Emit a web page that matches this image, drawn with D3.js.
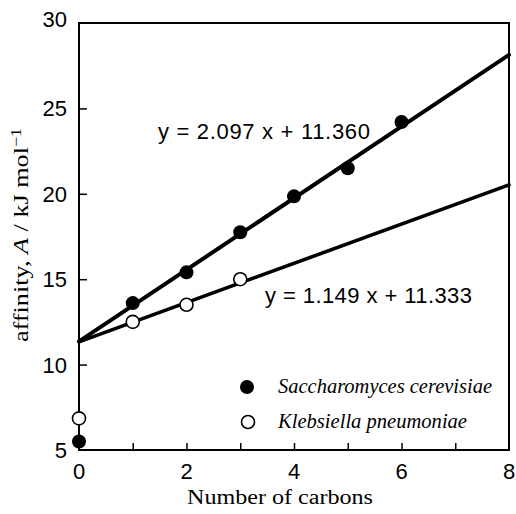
<!DOCTYPE html>
<html>
<head>
<meta charset="utf-8">
<script src="https://cdn.jsdelivr.net/npm/d3@7"></script>
<style>
  body { margin: 0; background: #fff; }
  text { fill: #000; }
</style>
</head>
<body>
<div id="chart"></div>
<script>
// data
var sacX = [0, 1, 2, 3, 4, 5, 6]
var sacY = [5.5, 13.6, 15.4, 17.75, 19.85, 21.5, 24.2]
var klebX = [0, 1, 2, 3]
var klebY = [6.85, 12.5, 13.5, 15.0]
var fits = [
    { name: "sac", slope: 2.097, icept: 11.360, label: "y = 2.097 x + 11.360" },
    { name: "kleb", slope: 1.149, icept: 11.333, label: "y = 1.149 x + 11.333" }
]
var legendNames = ["Saccharomyces cerevisiae", "Klebsiella pneumoniae"]
var xTicks = [0, 2, 4, 6, 8]
var xMinor = [1, 2, 3, 4, 5, 6, 7]
var yTicks = [5, 10, 15, 20, 25, 30]

var margin = { top: 23, right: 7, bottom: 64, left: 79 },
    W = 516, H = 514,
    width = W - margin.left - margin.right,
    height = H - margin.top - margin.bottom;

var svg = d3.select("#chart").append("svg")
    .attr("width", W)
    .attr("height", H)
var g = svg.append("g")
    .attr("transform", "translate(" + margin.left + "," + margin.top + ")")

var x = d3.scaleLinear().domain([0, 8]).range([0, width])
var y = d3.scaleLinear().domain([5, 30]).range([height, 0])

// frame
g.append("rect")
    .attr("width", width).attr("height", height)
    .attr("fill", "none").attr("stroke", "#000").attr("stroke-width", 2)

// bottom axis: inward ticks every unit, labels every 2
var xa = g.append("g")
    .attr("transform", "translate(0," + height + ")")
    .call(d3.axisBottom(x).tickValues(xMinor).tickSize(-7).tickFormat(""))
xa.select(".domain").remove()
xa.selectAll("line").attr("stroke-width", 1.5)
xTicks.forEach(function (t) {
    g.append("text")
        .attr("x", x(t)).attr("y", height + 29)
        .attr("text-anchor", "middle")
        .style("font", "22px 'Liberation Sans', Arial, sans-serif")
        .text(t)
})

// left axis
var ya = g.append("g")
    .call(d3.axisLeft(y).tickValues([10, 15, 20, 25]).tickSize(-8).tickFormat(""))
ya.select(".domain").remove()
ya.selectAll("line").attr("stroke-width", 1.5)
yTicks.forEach(function (t) {
    g.append("text")
        .attr("x", -12).attr("y", y(t))
        .attr("dy", t == 30 ? "0.2em" : "0.36em")
        .attr("text-anchor", "end")
        .style("font", "22px 'Liberation Sans', Arial, sans-serif")
        .text(t)
})

// fit lines
var line = d3.line().x(d => x(d[0])).y(d => y(d[1]))
fits.forEach(function (f) {
    g.append("path")
        .datum([[0, f.icept], [8, f.icept + 8 * f.slope]])
        .attr("d", line)
        .attr("fill", "none").attr("stroke", "#000")
        .attr("stroke-width", f.name == "sac" ? 4 : 3.6)
        .attr("stroke-linecap", "round")
})

// equation labels
svg.append("text").attr("x", 158).attr("y", 139)
    .attr("textLength", 212).attr("lengthAdjust", "spacing")
    .style("font", "22px 'Liberation Sans', Arial, sans-serif")
    .text(fits[0].label)
svg.append("text").attr("x", 265).attr("y", 303)
    .attr("textLength", 207).attr("lengthAdjust", "spacing")
    .style("font", "22px 'Liberation Sans', Arial, sans-serif")
    .text(fits[1].label)

// points
g.selectAll(".kleb").data(klebX.map((v, i) => [v, klebY[i]]))
    .enter().append("circle").attr("class", "kleb")
    .attr("cx", d => x(d[0])).attr("cy", d => y(d[1])).attr("r", 6.5)
    .attr("fill", "#fff").attr("stroke", "#000").attr("stroke-width", 1.6)
g.selectAll(".sac").data(sacX.map((v, i) => [v, sacY[i]]))
    .enter().append("circle").attr("class", "sac")
    .attr("cx", d => x(d[0])).attr("cy", d => y(d[1])).attr("r", 7)
    .attr("fill", "#000")

// legend
svg.append("circle").attr("cx", 247).attr("cy", 387).attr("r", 7).attr("fill", "#000")
svg.append("circle").attr("cx", 248).attr("cy", 422).attr("r", 6.5)
    .attr("fill", "#fff").attr("stroke", "#000").attr("stroke-width", 1.6)
svg.append("text").attr("x", 278).attr("y", 393)
    .attr("textLength", 214).attr("lengthAdjust", "spacingAndGlyphs")
    .style("font", "italic 20px 'Liberation Serif', 'Times New Roman', serif")
    .text(legendNames[0])
svg.append("text").attr("x", 278).attr("y", 428)
    .attr("textLength", 189).attr("lengthAdjust", "spacingAndGlyphs")
    .style("font", "italic 20px 'Liberation Serif', 'Times New Roman', serif")
    .text(legendNames[1])

// axis titles
svg.append("text").attr("x", 187).attr("y", 504)
    .attr("textLength", 186).attr("lengthAdjust", "spacingAndGlyphs")
    .style("font", "20px 'Liberation Serif', 'Times New Roman', serif")
    .text("Number of carbons")

var yl = svg.append("text")
    .attr("transform", "translate(28,342) rotate(-90)")
    .attr("textLength", 214).attr("lengthAdjust", "spacingAndGlyphs")
    .style("font", "22px 'Liberation Serif', 'Times New Roman', serif")
yl.append("tspan").text("affinity, ")
yl.append("tspan").style("font-style", "italic").text("A")
yl.append("tspan").text(" / kJ mol")
yl.append("tspan").attr("dy", "-0.45em").style("font-size", "15px").text("\u22121")
</script>
</body>
</html>
